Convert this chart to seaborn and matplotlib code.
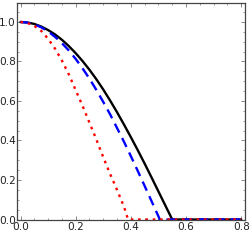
import matplotlib
matplotlib.use("Agg")
import matplotlib.pyplot as plt
import seaborn as sns
import numpy as np
import pandas as pd

# values
x_black = [0.0, 0.025, 0.05, 0.075, 0.1, 0.125, 0.15, 0.175, 0.2, 0.225, 0.25,
           0.275, 0.3, 0.325, 0.35, 0.375, 0.4, 0.425, 0.45, 0.475, 0.5, 0.525,
           0.55, 0.8]
y_black = [1.0, 0.997, 0.99, 0.977, 0.959, 0.937, 0.91, 0.878, 0.842, 0.802, 0.758,
           0.71, 0.658, 0.602, 0.543, 0.481, 0.417, 0.351, 0.283, 0.213, 0.142, 0.071,
           0.0, 0.0]

x_blue = [0.0, 0.025, 0.05, 0.075, 0.1, 0.125, 0.15, 0.175, 0.2, 0.225, 0.25,
          0.275, 0.3, 0.325, 0.35, 0.375, 0.4, 0.425, 0.45, 0.475, 0.5, 0.505, 0.8]
y_blue = [1.0, 0.997, 0.988, 0.973, 0.952, 0.925, 0.893, 0.856, 0.813, 0.765, 0.713,
          0.656, 0.595, 0.532, 0.463, 0.394, 0.321, 0.246, 0.17, 0.093, 0.016, 0.0, 0.0]

x_red = [0.0, 0.025, 0.05, 0.075, 0.1, 0.125, 0.15, 0.175, 0.2, 0.225, 0.25,
         0.275, 0.3, 0.325, 0.35, 0.375, 0.39, 0.8]
y_red = [1.0, 0.995, 0.98, 0.955, 0.915, 0.865, 0.805, 0.735, 0.655, 0.575, 0.49,
         0.405, 0.315, 0.23, 0.15, 0.065, 0.0, 0.0]

x_ticks = [0.0, 0.2, 0.4, 0.6, 0.8]
y_ticks = [0.0, 0.2, 0.4, 0.6, 0.8, 1.0]

sns.set_style("ticks")
plt.rcParams['font.family'] = ['Liberation Sans Narrow', 'DejaVu Sans']

fig = plt.figure(figsize=(2.49, 2.40), dpi=100)
ax = fig.add_axes([16.5 / 249, 20.5 / 240, 228 / 249, 216.5 / 240])

frame = '#444444'
sns.lineplot(x=x_black, y=y_black, color='black', lw=1.7, ax=ax)
sns.lineplot(x=x_blue, y=y_blue, color='blue', lw=1.7,
             linestyle=(0, (4.2, 2.6)), ax=ax)
sns.lineplot(x=x_red, y=y_red, color='red', lw=1.7,
             linestyle=(0, (1.1, 2.0)), ax=ax)

ax.set_xlim(-0.0145, 0.812)
ax.set_ylim(0, 1.096)
ax.set_xticks(x_ticks)
ax.set_xticklabels([f"{v:.1f}" for v in x_ticks])
ax.set_yticks(y_ticks)
ax.set_yticklabels([f"{v:.1f}" for v in y_ticks])
ax.set_xticks(np.arange(0, 0.81, 0.05), minor=True)
ax.set_yticks(np.arange(0, 1.06, 0.05), minor=True)

for s in ax.spines.values():
    s.set_visible(True)
    s.set_color(frame)
    s.set_linewidth(0.9)

ax.tick_params(which='both', direction='in', top=True, right=True,
               color='#888888', labelsize=7.6, labelcolor='#222222')
ax.tick_params(which='major', length=3, width=0.7)
ax.tick_params(which='minor', length=1.6, width=0.6)
ax.tick_params(axis='x', which='major', pad=1.5)
ax.tick_params(axis='y', which='major', pad=0.5)

fig.savefig("out.png", dpi=100)
